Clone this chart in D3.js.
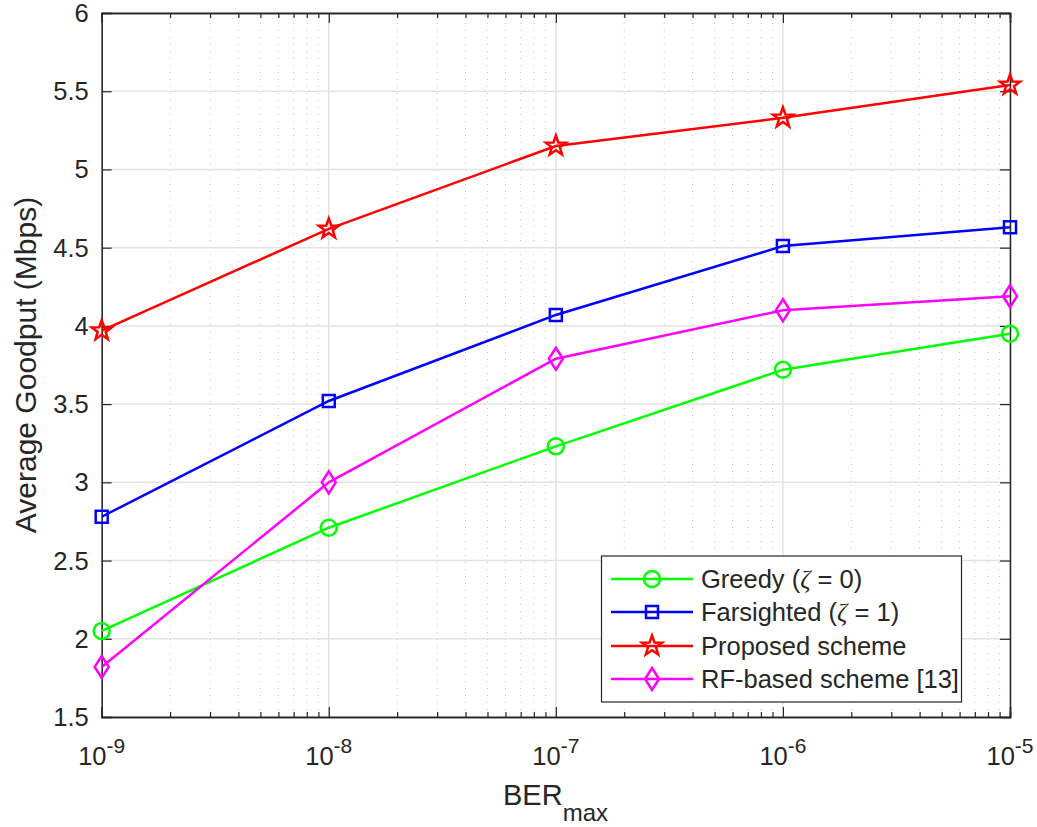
<!DOCTYPE html>
<html>
<head>
<meta charset="utf-8">
<script src="https://cdn.jsdelivr.net/npm/d3@7"></script>
<style>
  body { margin: 0; background: #fff; }
  svg text { font-family: "Liberation Sans", Arial, sans-serif; fill: #262626; }
</style>
</head>
<body>
<div id="chart"></div>
<script>
// Data
const berValues = [1e-9, 1e-8, 1e-7, 1e-6, 1e-5];
const greedy = [2.05, 2.71, 3.23, 3.72, 3.95];
const farsighted = [2.78, 3.52, 4.07, 4.51, 4.63];
const proposed = [3.97, 4.62, 5.15, 5.33, 5.54];
const rfBased = [1.82, 3.00, 3.79, 4.10, 4.19];
const xTickExponents = [-9, -8, -7, -6, -5];
const yTicks = [1.5, 2, 2.5, 3, 3.5, 4, 4.5, 5, 5.5, 6];
const seriesNames = ["Greedy", "Farsighted", "Proposed scheme", "RF-based scheme [13]"];

const width = 1037, height = 827;
const margin = { left: 101.7, right: 1037 - 1010, top: 13, bottom: 827 - 717 };

const svg = d3.select("#chart").append("svg")
    .attr("width", width)
    .attr("height", height);

const x = d3.scaleLog().domain([1e-9, 1e-5]).range([margin.left, width - margin.right]);
const y = d3.scaleLinear().domain([1.5, 6]).range([height - margin.bottom, margin.top]);

const axisColor = "#262626";

// Grid
const minorTicks = [];
for (let e = -9; e < -5; e++) {
    for (let m = 2; m <= 9; m++) minorTicks.push(m * Math.pow(10, e));
}
svg.append("g").selectAll("line").data(minorTicks).enter().append("line")
    .attr("x1", d => x(d)).attr("x2", d => x(d))
    .attr("y1", y(1.5)).attr("y2", y(6))
    .attr("stroke", "#c4c4c4").attr("stroke-width", 1)
    .attr("stroke-dasharray", "1,6");
svg.append("g").selectAll("line").data(berValues).enter().append("line")
    .attr("x1", d => x(d)).attr("x2", d => x(d))
    .attr("y1", y(1.5)).attr("y2", y(6))
    .attr("stroke", "#e3e3e3").attr("stroke-width", 1.5);
svg.append("g").selectAll("line").data(yTicks).enter().append("line")
    .attr("x1", x(1e-9)).attr("x2", x(1e-5))
    .attr("y1", d => y(d)).attr("y2", d => y(d))
    .attr("stroke", "#e3e3e3").attr("stroke-width", 1.5);

// Axes (ticks inside, box)
const fmtNone = () => "";
const axB = svg.append("g").attr("transform", `translate(0,${y(1.5)})`)
    .call(d3.axisTop(x).tickValues(berValues).tickSize(10).tickFormat(fmtNone));
const axBm = svg.append("g").attr("transform", `translate(0,${y(1.5)})`)
    .call(d3.axisTop(x).tickValues(minorTicks).tickSize(5).tickFormat(fmtNone));
const axT = svg.append("g").attr("transform", `translate(0,${y(6)})`)
    .call(d3.axisBottom(x).tickValues(berValues).tickSize(10).tickFormat(fmtNone));
const axTm = svg.append("g").attr("transform", `translate(0,${y(6)})`)
    .call(d3.axisBottom(x).tickValues(minorTicks).tickSize(5).tickFormat(fmtNone));
const axL = svg.append("g").attr("transform", `translate(${x(1e-9)},0)`)
    .call(d3.axisRight(y).tickValues(yTicks).tickSize(10).tickFormat(fmtNone));
const axR = svg.append("g").attr("transform", `translate(${x(1e-5)},0)`)
    .call(d3.axisLeft(y).tickValues(yTicks).tickSize(10).tickFormat(fmtNone));
[axB, axBm, axT, axTm, axL, axR].forEach(g => {
    g.selectAll("path.domain").attr("stroke", axisColor).attr("stroke-width", 1.5);
    g.selectAll(".tick line").attr("stroke", axisColor).attr("stroke-width", 1.2);
});

// Tick labels
svg.append("g").selectAll("text").data(yTicks).enter().append("text")
    .attr("x", x(1e-9) - 13).attr("y", d => y(d) + 9)
    .attr("text-anchor", "end").attr("font-size", 25.5)
    .text(d => d);

const xl = svg.append("g").selectAll("text").data(xTickExponents).enter().append("text")
    .attr("x", d => x(Math.pow(10, d))).attr("y", 765)
    .attr("text-anchor", "middle").attr("font-size", 25.5);
xl.append("tspan").text("10");
xl.append("tspan").attr("dy", -12).attr("font-size", 21).text(d => d);

// Axis labels
const xLab = svg.append("text").attr("x", 503).attr("y", 805).attr("font-size", 29);
xLab.append("tspan").text("BER");
xLab.append("tspan").attr("dy", 16).attr("font-size", 24).text("max");

svg.append("text")
    .attr("transform", `translate(36,${(y(1.5) + y(6)) / 2}) rotate(-90)`)
    .attr("text-anchor", "middle").attr("font-size", 30)
    .text("Average Goodput (Mbps)");

// Marker shapes
function starPath(r) {
    const pts = [];
    for (let i = 0; i < 10; i++) {
        const rad = i % 2 === 0 ? r : r * 0.4;
        const a = -Math.PI / 2 + i * Math.PI / 5;
        pts.push([rad * Math.cos(a), rad * Math.sin(a)]);
    }
    return "M" + pts.map(p => p.join(",")).join("L") + "Z";
}
const markers = {
    circle: "M8,0A8,8 0 1,1 -8,0A8,8 0 1,1 8,0Z",
    square: "M-6,-6H6V6H-6Z",
    star: starPath(10.5),
    diamond: "M0,-11L7,0L0,11L-7,0Z"
};

const series = [
    { name: seriesNames[0], values: greedy, color: "#00ff00", marker: markers.circle },
    { name: seriesNames[1], values: farsighted, color: "#0000ff", marker: markers.square },
    { name: seriesNames[2], values: proposed, color: "#ff0000", marker: markers.star },
    { name: seriesNames[3], values: rfBased, color: "#ff00ff", marker: markers.diamond }
];

const line = d3.line().x(d => x(d[0])).y(d => y(d[1]));

series.forEach(s => {
    const pts = berValues.map((b, i) => [b, s.values[i]]);
    svg.append("path").datum(pts)
        .attr("d", line).attr("fill", "none")
        .attr("stroke", s.color).attr("stroke-width", 2.5);
    svg.append("g").selectAll("path").data(pts).enter().append("path")
        .attr("d", s.marker)
        .attr("transform", d => `translate(${x(d[0])},${y(d[1])})`)
        .attr("fill", "none").attr("stroke", s.color).attr("stroke-width", 2.5);
});

// Legend
const legend = svg.append("g");
legend.append("rect")
    .attr("x", 601.5).attr("y", 556).attr("width", 360).attr("height", 146)
    .attr("fill", "#fff").attr("stroke", axisColor).attr("stroke-width", 1.2);
const rowY = [579, 612, 646, 679];
series.forEach((s, i) => {
    const g = legend.append("g").attr("transform", `translate(0,${rowY[i]})`);
    g.append("line").attr("x1", 611).attr("x2", 693).attr("y1", 0).attr("y2", 0)
        .attr("stroke", s.color).attr("stroke-width", 2.5);
    g.append("path").attr("d", s.marker).attr("transform", "translate(652,0)")
        .attr("fill", "none").attr("stroke", s.color).attr("stroke-width", 2.5);
    const t = g.append("text").attr("x", 701).attr("y", 9).attr("font-size", 25.5).attr("fill", "#000");
    if (i < 2) {
        t.append("tspan").text(s.name + " (");
        t.append("tspan").attr("font-family", "'Liberation Serif', serif").attr("font-style", "italic").text("ζ");
        t.append("tspan").text(i === 0 ? " = 0)" : " = 1)");
    } else {
        t.text(s.name);
    }
});
</script>
</body>
</html>
